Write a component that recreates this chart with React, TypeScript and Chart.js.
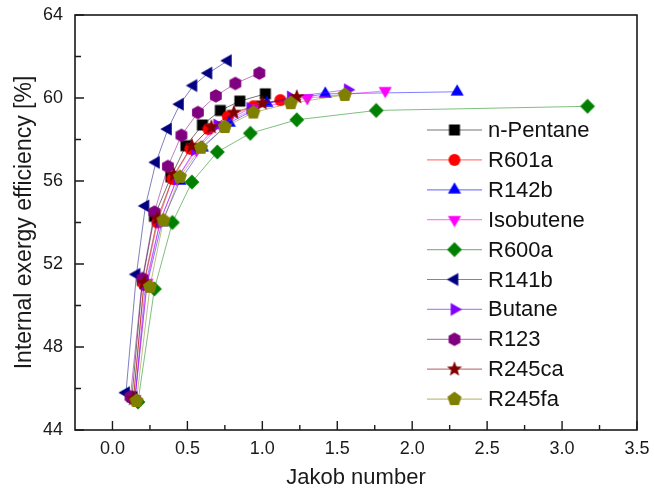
import React, { useEffect, useRef } from 'react';
import { Chart, registerables } from 'chart.js';

Chart.register(...registerables);

// ---------- data ----------
const seriesNames = ['n-Pentane', 'R601a', 'R142b', 'Isobutene', 'R600a', 'R141b', 'Butane', 'R123', 'R245ca', 'R245fa'];

const pentaneX = [0.13, 0.2, 0.28, 0.39, 0.49, 0.6, 0.72, 0.85, 1.02];
const pentaneY = [45.6, 51.2, 54.3, 56.2, 57.7, 58.7, 59.4, 59.85, 60.2];
const r601aX = [0.14, 0.21, 0.3, 0.4, 0.52, 0.64, 0.77, 0.94, 1.12];
const r601aY = [45.5, 51.0, 54.0, 56.1, 57.55, 58.5, 59.1, 59.6, 59.9];
const r142bX = [0.15, 0.23, 0.33, 0.45, 0.6, 0.78, 1.03, 1.42, 2.3];
const r142bY = [45.5, 51.0, 54.0, 56.0, 57.6, 58.8, 59.75, 60.2, 60.3];
const isobuteneX = [0.15, 0.23, 0.32, 0.43, 0.56, 0.72, 0.95, 1.3, 1.82];
const isobuteneY = [45.5, 51.1, 54.1, 56.1, 57.5, 58.7, 59.5, 60.0, 60.35];
const r600aX = [0.17, 0.28, 0.4, 0.53, 0.7, 0.92, 1.23, 1.76, 3.17];
const r600aY = [45.35, 50.8, 54.0, 55.95, 57.4, 58.3, 58.95, 59.4, 59.6];
const r141bX = [0.09, 0.16, 0.22, 0.29, 0.37, 0.45, 0.54, 0.64, 0.77];
const r141bY = [45.8, 51.5, 54.8, 56.9, 58.5, 59.7, 60.6, 61.2, 61.8];
const butaneX = [0.15, 0.22, 0.32, 0.43, 0.55, 0.7, 0.92, 1.19, 1.57];
const butaneY = [45.5, 51.0, 54.1, 56.1, 57.5, 58.7, 59.5, 60.05, 60.4];
const r123X = [0.12, 0.2, 0.28, 0.37, 0.46, 0.57, 0.69, 0.82, 0.98];
const r123Y = [45.6, 51.3, 54.5, 56.7, 58.2, 59.3, 60.1, 60.7, 61.2];
const r245caX = [0.14, 0.21, 0.3, 0.41, 0.53, 0.66, 0.81, 1.0, 1.23];
const r245caY = [45.5, 51.1, 54.2, 56.3, 57.7, 58.6, 59.3, 59.75, 60.05];
const r245faX = [0.16, 0.25, 0.34, 0.45, 0.59, 0.75, 0.94, 1.19, 1.55];
const r245faY = [45.4, 50.9, 54.1, 56.2, 57.6, 58.6, 59.3, 59.75, 60.15];

const xMajor = [0, 0.5, 1, 1.5, 2, 2.5, 3, 3.5];
const xMinor = [0.25, 0.75, 1.25, 1.75, 2.25, 2.75, 3.25];
const yMajor = [44, 48, 52, 56, 60, 64];
const yMinor = [46, 50, 54, 58, 62];

const seriesX = [pentaneX, r601aX, r142bX, isobuteneX, r600aX, r141bX, butaneX, r123X, r245caX, r245faX];
const seriesY = [pentaneY, r601aY, r142bY, isobuteneY, r600aY, r141bY, butaneY, r123Y, r245caY, r245faY];

// ---------- styles ----------
const markerShapes = ['square', 'circle', 'up', 'down', 'diamond', 'left', 'right', 'hexagon', 'star', 'pentagon'];
const markerColors = ['#000000', '#ff0000', '#0000ff', '#ff00ff', '#008000', '#000080', '#8000ff', '#800080', '#800000', '#808000'];
const lineColors = [
  'rgba(0,0,0,0.55)', 'rgba(255,0,0,0.5)', 'rgba(0,0,255,0.5)', 'rgba(255,0,255,0.5)', 'rgba(0,128,0,0.5)',
  'rgba(0,0,128,0.5)', 'rgba(128,0,255,0.5)', 'rgba(128,0,128,0.5)', 'rgba(128,0,0,0.5)', 'rgba(128,128,0,0.5)',
];
const FONT = "'Liberation Sans', Arial, sans-serif";

function makeMarker(shape: string, color: string): HTMLCanvasElement {
  const size = 20;
  const c = document.createElement('canvas');
  c.width = size;
  c.height = size;
  const ctx = c.getContext('2d')!;
  ctx.translate(size / 2, size / 2);
  ctx.fillStyle = color;
  ctx.beginPath();
  const poly = (n: number, r: number, rot: number) => {
    for (let i = 0; i < n; i++) {
      const a = rot + (i * 2 * Math.PI) / n;
      const px = r * Math.cos(a);
      const py = r * Math.sin(a);
      if (i === 0) ctx.moveTo(px, py);
      else ctx.lineTo(px, py);
    }
    ctx.closePath();
  };
  switch (shape) {
    case 'square': ctx.rect(-5.5, -5.5, 11, 11); break;
    case 'circle': ctx.arc(0, 0, 6, 0, Math.PI * 2); break;
    case 'up': poly(3, 7.6, -Math.PI / 2); break;
    case 'down': poly(3, 7.6, Math.PI / 2); break;
    case 'left': poly(3, 7.6, Math.PI); break;
    case 'right': poly(3, 7.6, 0); break;
    case 'diamond': poly(4, 7.4, -Math.PI / 2); break;
    case 'hexagon': poly(6, 6.8, -Math.PI / 2); break;
    case 'pentagon': poly(5, 7.4, -Math.PI / 2); break;
    case 'star':
      for (let i = 0; i < 10; i++) {
        const r = i % 2 ? 3.4 : 8;
        const a = -Math.PI / 2 + (i * Math.PI) / 5;
        const px = r * Math.cos(a);
        const py = r * Math.sin(a);
        if (i === 0) ctx.moveTo(px, py);
        else ctx.lineTo(px, py);
      }
      ctx.closePath();
      break;
  }
  ctx.fill();
  return c;
}

const framePlugin = {
  id: 'frame',
  afterDraw(chart: any) {
    const { ctx, chartArea: a, scales } = chart;
    const xs = scales.x;
    const ys = scales.y;
    ctx.save();
    ctx.strokeStyle = '#1a1a1a';
    ctx.lineWidth = 1.6;
    ctx.strokeRect(a.left, a.top, a.right - a.left, a.bottom - a.top);
    ctx.lineWidth = 1.4;
    ctx.beginPath();
    xMajor.forEach((v) => { const p = xs.getPixelForValue(v); ctx.moveTo(p, a.bottom); ctx.lineTo(p, a.bottom - 9); });
    xMinor.forEach((v) => { const p = xs.getPixelForValue(v); ctx.moveTo(p, a.bottom); ctx.lineTo(p, a.bottom - 5); });
    yMajor.forEach((v) => { const p = ys.getPixelForValue(v); ctx.moveTo(a.left, p); ctx.lineTo(a.left + 9, p); });
    yMinor.forEach((v) => { const p = ys.getPixelForValue(v); ctx.moveTo(a.left, p); ctx.lineTo(a.left + 6, p); });
    ctx.stroke();
    ctx.restore();
  },
};

const legendPlugin = {
  id: 'innerLegend',
  afterDraw(chart: any) {
    const { ctx } = chart;
    const x1 = 427, x2 = 482, mx = 454.5, tx = 488, y0 = 130, dy = 29.9;
    ctx.save();
    chart.data.datasets.forEach((ds: any, i: number) => {
      const y = y0 + i * dy;
      ctx.strokeStyle = ds.borderColor;
      ctx.lineWidth = 1.2;
      ctx.beginPath();
      ctx.moveTo(x1, y);
      ctx.lineTo(x2, y);
      ctx.stroke();
      const img = ds.pointStyle as HTMLCanvasElement;
      ctx.drawImage(img, mx - img.width / 2, y - img.height / 2);
      ctx.fillStyle = '#111';
      ctx.font = `22px ${FONT}`;
      ctx.textBaseline = 'middle';
      ctx.textAlign = 'left';
      ctx.fillText(ds.label, tx, y + 1);
    });
    ctx.restore();
  },
};

const zeroPad = (s: any) => {
  s.paddingTop = 0;
  s.paddingBottom = 0;
  s.paddingLeft = 0;
  s.paddingRight = 0;
};

export default function App() {
  const ref = useRef<HTMLCanvasElement | null>(null);
  useEffect(() => {
    const canvas = ref.current!;
    const datasets = seriesNames.map((name, i) => ({
      label: name,
      data: seriesX[i].map((x, k) => ({ x, y: seriesY[i][k] })),
      showLine: true,
      borderColor: lineColors[i],
      borderWidth: 1,
      backgroundColor: markerColors[i],
      pointStyle: makeMarker(markerShapes[i], markerColors[i]),
      pointRadius: 6,
      tension: 0,
      order: seriesNames.length - i,
      clip: false as any,
    }));
    const chart = new Chart(canvas, {
      type: 'scatter',
      data: { datasets },
      options: {
        animation: false,
        responsive: false,
        devicePixelRatio: 1,
        events: [],
        layout: { padding: { left: 0, right: 17, top: 15, bottom: 0 } },
        plugins: { legend: { display: false }, tooltip: { enabled: false } },
        scales: {
          x: {
            type: 'linear',
            min: -0.25,
            max: 3.5,
            afterBuildTicks: (s: any) => { s.ticks = xMajor.map((v) => ({ value: v })); },
            afterFit: (s: any) => { s.height = 66; zeroPad(s); },
            grid: { display: false, drawTicks: false },
            border: { display: false },
            ticks: {
              padding: 8,
              color: '#1a1a1a',
              font: { family: FONT, size: 18 },
              maxRotation: 0,
              autoSkip: false,
              callback: (v: any) => Number(v).toFixed(1),
            },
            title: {
              display: true,
              text: 'Jakob number',
              color: '#1a1a1a',
              font: { family: FONT, size: 22 },
              padding: { top: 0, bottom: 5 },
            },
          },
          y: {
            type: 'linear',
            min: 44,
            max: 64,
            afterBuildTicks: (s: any) => { s.ticks = yMajor.map((v) => ({ value: v })); },
            afterFit: (s: any) => { s.width = 75; zeroPad(s); },
            grid: { display: false, drawTicks: false },
            border: { display: false },
            ticks: {
              padding: 12,
              color: '#1a1a1a',
              font: { family: FONT, size: 18 },
              autoSkip: false,
              callback: (v: any) => String(v),
            },
            title: {
              display: true,
              text: 'Internal exergy efficiency [%]',
              color: '#1a1a1a',
              font: { family: FONT, size: 23 },
              padding: { top: 11, bottom: 0 },
            },
          },
        },
      } as any,
      plugins: [framePlugin, legendPlugin],
    });
    return () => chart.destroy();
  }, []);
  return (
    <div style={{ position: 'fixed', left: 0, top: 0, width: 654, height: 496, background: '#fff' }}>
      <canvas ref={ref} width={654} height={496} style={{ display: 'block' }} />
    </div>
  );
}
